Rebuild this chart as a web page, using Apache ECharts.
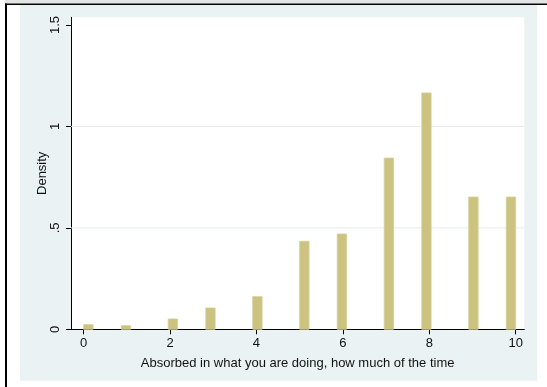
<!DOCTYPE html>
<html>
<head>
<meta charset="utf-8">
<title>Absorbed in what you are doing</title>
<script src="https://cdn.jsdelivr.net/npm/echarts@6/dist/echarts.min.js"></script>
<style>
  html, body { margin: 0; padding: 0; background: #ffffff; }
  #chart { width: 547px; height: 387px; }
</style>
</head>
<body>
<div id="chart"></div>
<script>
// Histogram of responses (0-10 scale), density per bin
const scoreValues = [0, 1, 2, 3, 4, 5, 6, 7, 8, 9, 10];
const densityValues = [0.023, 0.018, 0.051, 0.105, 0.161, 0.434, 0.470, 0.844, 1.165, 0.652, 0.652];

// Histogram binning over the 0-10 range
const binCount = 46;
const rangeStart = 0;
const rangeEnd = 10;

// Axis ticks, labels and horizontal grid lines
const xTickValues = [0, 2, 4, 6, 8, 10];
const yTickValues = [0, 0.5, 1, 1.5];
const yGridValues = [0.5, 1];

const xTitle = 'Absorbed in what you are doing, how much of the time';
const yTitle = 'Density';

const binWidth = (rangeEnd - rangeStart) / binCount;
const histData = scoreValues.map(function (v, i) {
  let idx = Math.floor((v - rangeStart) / binWidth);
  if (idx >= binCount) idx = binCount - 1;
  const lo = rangeStart + idx * binWidth;
  return [lo, lo + binWidth, densityValues[i]];
});

const FONT = '"Liberation Sans", Arial, Helvetica, sans-serif';
const TEXT = '#111111';

const chart = echarts.init(document.getElementById('chart'), null, { renderer: 'canvas' });

chart.setOption({
  animation: false,
  backgroundColor: '#ffffff',
  graphic: [
    { type: 'rect', shape: { x: 5, y: 0, width: 542, height: 3.5 }, style: { fill: '#e2e4e4' }, silent: true, z: -20 },
    { type: 'rect', shape: { x: 5, y: 3.5, width: 542, height: 1.5 }, style: { fill: '#000000' }, silent: true, z: -20 },
    { type: 'rect', shape: { x: 5, y: 3.5, width: 2, height: 384 }, style: { fill: '#000000' }, silent: true, z: -20 },
    { type: 'rect', shape: { x: 20, y: 5, width: 517.3, height: 375.7 }, style: { fill: '#eaf2f3' }, silent: true, z: -20 }
  ],
  grid: {
    left: 71,
    top: 17.3,
    right: 22.7,
    bottom: 57.7,
    show: true,
    backgroundColor: '#ffffff',
    borderWidth: 0
  },
  xAxis: {
    type: 'value',
    min: -0.294,
    max: 10.2,
    name: xTitle,
    nameLocation: 'middle',
    nameGap: 28,
    nameTextStyle: { fontFamily: FONT, fontSize: 13, color: TEXT },
    axisLine: { show: true, onZero: false, lineStyle: { color: '#000000', width: 1 } },
    axisTick: { show: true, length: 5, customValues: xTickValues, lineStyle: { color: '#000000', width: 1 } },
    axisLabel: { customValues: xTickValues, margin: 8, fontFamily: FONT, fontSize: 13, color: TEXT },
    splitLine: { show: false }
  },
  yAxis: {
    type: 'value',
    min: 0,
    max: 1.538,
    name: yTitle,
    nameLocation: 'middle',
    nameGap: 22,
    nameMoveOverlap: false,
    nameRotate: 90,
    nameTextStyle: { fontFamily: FONT, fontSize: 13, color: TEXT },
    axisLine: { show: true, onZero: false, lineStyle: { color: '#000000', width: 1 } },
    axisTick: { show: true, length: 5, customValues: yTickValues, lineStyle: { color: '#000000', width: 1 } },
    axisLabel: {
      customValues: yTickValues,
      rotate: 90,
      margin: 9,
      fontFamily: FONT,
      fontSize: 13,
      color: TEXT,
      formatter: function (v) {
        if (v === 0) return '0';
        const s = String(v);
        return s.charAt(0) === '0' ? s.slice(1) : s;
      }
    },
    splitLine: { show: false }
  },
  series: [
    {
      // horizontal grid lines, drawn beneath the bars
      type: 'custom',
      coordinateSystem: 'cartesian2d',
      encode: { y: 0 },
      data: yGridValues.map(function (v) { return [v]; }),
      silent: true,
      renderItem: function (params, api) {
        const cs = params.coordSys;
        const y = api.coord([0, api.value(0)])[1];
        return {
          type: 'line',
          shape: { x1: cs.x, y1: y, x2: cs.x + cs.width, y2: y },
          style: { stroke: '#e4ecec', lineWidth: 1 }
        };
      },
      z: 1
    },
    {
      type: 'custom',
      name: yTitle,
      coordinateSystem: 'cartesian2d',
      encode: { x: [0, 1], y: 2 },
      data: histData,
      renderItem: function (params, api) {
        const p0 = api.coord([api.value(0), 0]);
        const p1 = api.coord([api.value(1), api.value(2)]);
        return {
          type: 'rect',
          shape: { x: p0[0], y: p1[1], width: p1[0] - p0[0], height: p0[1] - p1[1] },
          style: { fill: '#cbc37f', stroke: '#d6cf98', lineWidth: 0.8 }
        };
      },
      z: 3
    }
  ]
});
</script>
</body>
</html>
